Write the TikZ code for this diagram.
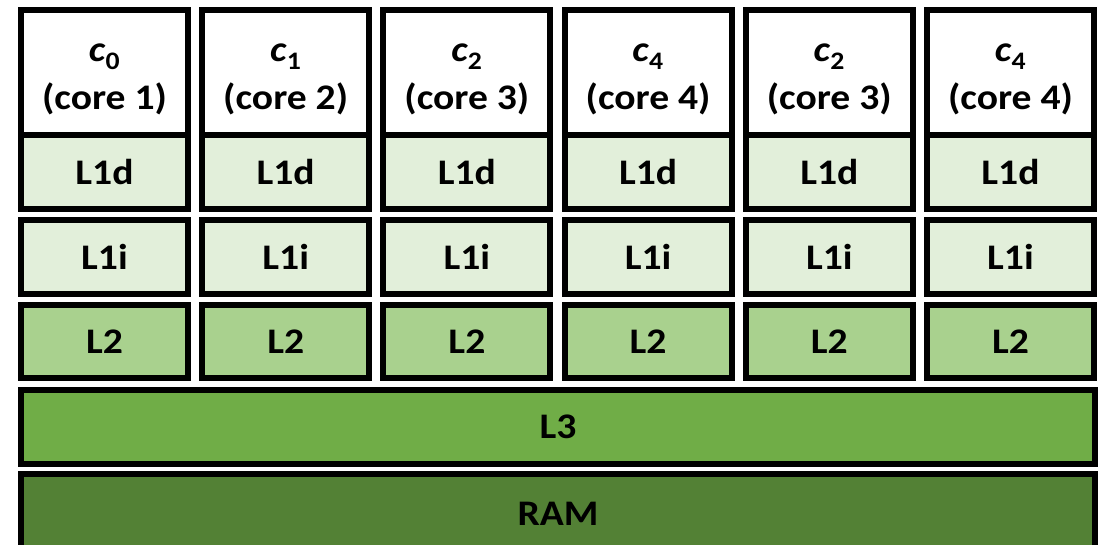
\documentclass[tikz,border=0pt]{standalone}
\usepackage{fontspec}
\setmainfont{Carlito}[FakeStretch=1.1]
\definecolor{lgreen}{HTML}{E2EFDA}
\definecolor{mgreen}{HTML}{A9D18E}
\definecolor{dgreen}{HTML}{70AD47}
\definecolor{ddgreen}{HTML}{538135}
\tikzset{
  cell/.style={draw=black,line width=6pt,minimum width=167pt,inner sep=0pt,outer sep=0pt,
    font=\bfseries\fontsize{36}{48}\selectfont,align=center},
}
\begin{document}
\begin{tikzpicture}[x=1pt,y=-1pt]
\useasboundingbox (0,0) rectangle (1099,545);
\begin{scope}
\clip (0,0) rectangle (1099,545);
\foreach \i/\c/\k in {0/0/1,1/1/2,2/2/3,3/4/4,4/2/3,5/4/4}{
  \pgfmathsetmacro{\cx}{104.5+181.2*\i}
  \node[cell,fill=white,minimum height=125pt] (top\i) at (\cx,72.5)
    {\rule{0pt}{31pt}\textit{c}\textsubscript{\c}\\(core \k)};
  \node[cell,fill=lgreen,minimum height=74pt] (lod\i) at (\cx,172) {L1d};
  \node[cell,fill=lgreen,minimum height=74pt] (loi\i) at (\cx,257) {L1i};
  \node[cell,fill=mgreen,minimum height=73pt] (ltwo\i) at (\cx,341.5) {L2};
}
\node[cell,fill=dgreen,minimum width=1074pt,minimum height=74pt] (lthree) at (558,426.5) {L3};
\node[cell,fill=ddgreen,minimum width=1074pt,minimum height=80pt] (ram) at (558,514) {RAM};
\end{scope}
\end{tikzpicture}
\end{document}
